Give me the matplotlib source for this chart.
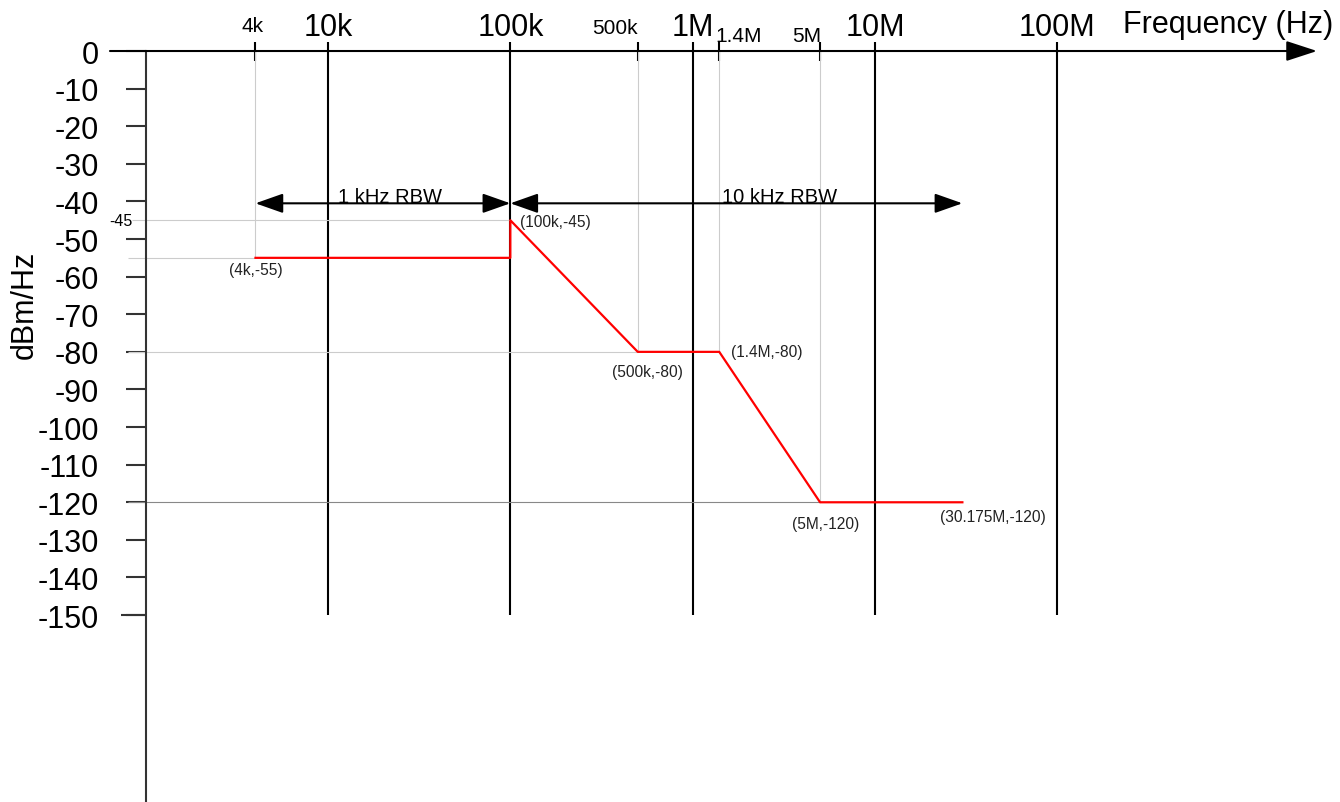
import matplotlib.pyplot as plt
from matplotlib.ticker import NullLocator

plt.rcParams['font.family'] = ['Liberation Sans', 'DejaVu Sans']
plt.rcParams['axes.unicode_minus'] = False

# corner points of the limit line (Hz, dBm/Hz)
freq = [4e3, 1e5, 1e5, 5e5, 1.4e6, 5e6, 30.175e6]
level = [-55, -55, -45, -80, -80, -120, -120]

# labelled corners
pt_freq = [4e3, 1e5, 5e5, 1.4e6, 5e6, 30.175e6]
pt_level = [-55, -45, -80, -80, -120, -120]
pt_labels = ['(4k,-55)', '(100k,-45)', '(500k,-80)', '(1.4M,-80)', '(5M,-120)', '(30.175M,-120)']

# frequency axis
decades = [1e4, 1e5, 1e6, 1e7, 1e8]
decade_labels = ['10k', '100k', '1M', '10M', '100M']
marks = [4e3, 5e5, 1.4e6, 5e6]
mark_labels = ['4k', '500k', '1.4M', '5M']
mark_levels = [-55, -80, -80, -120]

# level axis
yticks = list(range(0, -151, -10))

# resolution bandwidth spans
rbw_start = [4e3, 1e5]
rbw_end = [1e5, 30.175e6]
rbw_labels = ['1 kHz RBW', '10 kHz RBW']
rbw_text_freq = [2.2e4, 3.0e6]
rbw_level = -40.5

fig = plt.figure(figsize=(13.4, 8.03), dpi=100)
ax = fig.add_axes([0, 0, 1, 1])
ax.set_xscale('log')
ax.set_xlim(10**2.2007, 10**9.551)
ax.set_ylim(-199.7, 13.83)

# y axis as a real spine at 1 kHz
for s in ['top', 'right', 'bottom']:
	ax.spines[s].set_visible(False)
ax.spines['left'].set_position(('data', 1000))
ax.spines['left'].set_bounds(-199.7, 0)
ax.spines['left'].set_linewidth(1.5)
ax.spines['left'].set_color('#333333')
ax.set_yticks(yticks)
ax.set_yticklabels([str(v) for v in yticks])
ax.tick_params(axis='y', length=14.4, width=1.5, color='#333333', pad=19.5, labelsize=22)
ax.xaxis.set_major_locator(NullLocator())
ax.xaxis.set_minor_locator(NullLocator())
ax.tick_params(axis='x', which='both', bottom=False, labelbottom=False)
ax.patch.set_visible(False)

# longer tick at -150
ax.hlines(-150, 10**2.864, 1000, color='#333333', lw=1.5)

# x axis with arrow
ax.annotate('', xy=(10**9.425, 0), xytext=(10**2.804, 0),
	arrowprops=dict(arrowstyle='-|>,head_length=19,head_width=6.2', mutation_scale=1,
		lw=1.5, color='black', shrinkA=0, shrinkB=0))

# decade lines
ax.vlines(decades, -150, 2.4, color='black', lw=1.5)
for f, lab in zip(decades, decade_labels):
	ax.text(f, 4.3, lab, ha='center', va='baseline', fontsize=22)

# marked frequencies: short tick + thin guide down to the curve
ax.vlines(marks, -2.7, 2.4, color='black', lw=1.5)
ax.vlines(marks, mark_levels, 0, color='#cccccc', lw=0.8)
mark_style = [('center', 5.3), ('right', 4.8), ('left', 2.6), ('right', 2.6)]
mark_shift = [-2, 0, -3, 1]
for f, lab, (ha, yb), dx in zip(marks, mark_labels, mark_style, mark_shift):
	ax.annotate(lab, (f, yb), xytext=(dx, 0), textcoords='offset points',
		ha=ha, va='baseline', fontsize=15)

# horizontal guides
ax.hlines(-45, 10**2.925, 1e5, color='#cccccc', lw=0.8)
ax.hlines(-55, 10**2.903, 4e3, color='#cccccc', lw=0.8)
ax.hlines(-80, 10**2.903, 5e5, color='#cccccc', lw=0.8)
ax.hlines(-120, 10**2.903, 5e6, color='#888888', lw=0.8)
ax.text(10**2.925, -45, '-45', ha='right', va='center', fontsize=11.5)

# limit line
ax.plot(freq, level, color='#ff0000', lw=1.6, zorder=5)

pt_style = [('center', 'top', 0, -3), ('left', 'center', 7, -1), ('center', 'top', 7, -9),
	('left', 'center', 8.5, 0), ('center', 'top', 4, -10), ('left', 'top', -16, -5)]
for f, v, lab, (ha, va, dx, dy) in zip(pt_freq, pt_level, pt_labels, pt_style):
	ax.annotate(lab, (f, v), xytext=(dx, dy), textcoords='offset points',
		ha=ha, va=va, fontsize=11.2, color='#222222')

# RBW arrows
for a, b, lab, tf in zip(rbw_start, rbw_end, rbw_labels, rbw_text_freq):
	ax.annotate('', xy=(b, rbw_level), xytext=(a, rbw_level),
		arrowprops=dict(arrowstyle='<|-|>,head_length=17,head_width=6', mutation_scale=1,
			lw=1.5, color='black', shrinkA=0, shrinkB=0))
	ax.annotate(lab, (tf, rbw_level), xytext=(0, 1), textcoords='offset points',
		ha='center', va='baseline', fontsize=14.5)

ax.text(10**2.338, -67.3, 'dBm/Hz', rotation=90, ha='center', va='center', fontsize=22)
ax.text(10**9.513, 5.05, 'Frequency (Hz)', ha='right', va='baseline', fontsize=22)

fig.savefig('out.png', dpi=100)
